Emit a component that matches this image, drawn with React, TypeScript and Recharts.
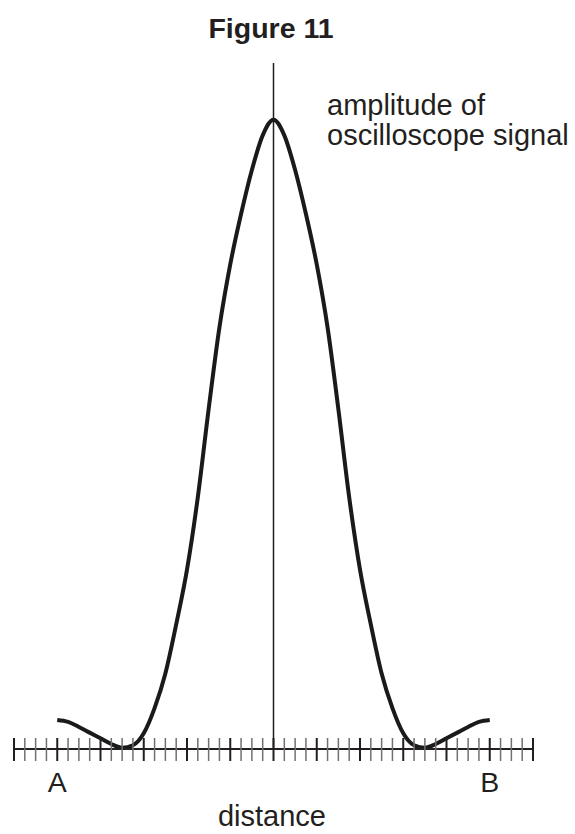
import React from 'react';
import { LineChart, Line, XAxis, YAxis, ReferenceLine } from 'recharts';

// distance along A–B (one unit = one small scale division)
const distance = [
  -20, -19, -18, -17, -16, -15, -14, -13, -12, -11, -10, -9, -8, -7, -6, -5, -4, -3, -2, -1,
  0,
  1, 2, 3, 4, 5, 6, 7, 8, 9, 10, 11, 12, 13, 14, 15, 16, 17, 18, 19, 20,
];

// amplitude of oscilloscope signal (percent of the central peak)
const amplitude = [
  4.6, 4.3, 3.5, 2.6, 1.7, 0.8, 0.2, 0.6, 2.5, 6.5, 12, 19.8, 28.5, 40, 54, 67, 77, 85, 92, 97.5,
  100,
  97.5, 92, 85, 77, 67, 54, 40, 28.5, 19.8, 12, 6.5, 2.5, 0.6, 0.2, 0.8, 1.7, 2.6, 3.5, 4.3, 4.6,
];

// scale divisions on the distance axis
const tickValues = [
  -24, -23, -22, -21, -20, -19, -18, -17, -16, -15, -14, -13, -12, -11, -10, -9, -8, -7, -6, -5, -4, -3, -2, -1,
  0, 1, 2, 3, 4, 5, 6, 7, 8, 9, 10, 11, 12, 13, 14, 15, 16, 17, 18, 19, 20, 21, 22, 23, 24,
];
const majorTicks = [-24, -20, -16, -12, -8, -4, 0, 4, 8, 12, 16, 20, 24];
const pointValues = [-20, 20];
const pointLabels = ['A', 'B'];

const title = 'Figure 11';
const yLabelLines = ['amplitude of', 'oscilloscope signal'];
const xLabel = 'distance';

const data = distance.map((d, i) => ({ distance: d, amplitude: amplitude[i] }));

const FONT = '"Liberation Sans", Arial, Helvetica, sans-serif';
const INK = '#231f20';

function CrossTick(props: any) {
  const { x, y, payload } = props;
  const v = payload.value;
  const major = majorTicks.includes(v);
  const li = pointValues.indexOf(v);
  return (
    <g>
      <line
        x1={x}
        x2={x}
        y1={y - 11}
        y2={y + 12}
        stroke={major ? INK : '#707070'}
        strokeWidth={major ? 2 : 1.5}
      />
      {li >= 0 && (
        <text x={x} y={y + 43} textAnchor="middle" fontSize={28.5} fill={INK} fontFamily={FONT}>
          {pointLabels[li]}
        </text>
      )}
    </g>
  );
}

export default function App() {
  return (
    <div style={{ position: 'absolute', left: 0, top: 0, width: 575, height: 834, background: '#fff' }}>
      <LineChart width={575} height={834} data={data} margin={{ top: 63, right: 42, bottom: 0, left: 14 }}>
        <XAxis
          dataKey="distance"
          type="number"
          domain={[-24, 24]}
          ticks={tickValues}
          interval={0}
          height={85}
          axisLine={{ stroke: INK, strokeWidth: 2 }}
          tickLine={false}
          tickSize={0}
          tickMargin={0}
          tick={<CrossTick />}
          allowDataOverflow
        />
        <YAxis hide domain={[0, 109]} allowDataOverflow />
        <ReferenceLine x={0} stroke={INK} strokeWidth={1.5} />
        <Line
          dataKey="amplitude"
          type="monotone"
          stroke="#1a1a1a"
          strokeWidth={4}
          dot={false}
          isAnimationActive={false}
        />
      </LineChart>
      <svg
        width={575}
        height={834}
        style={{ position: 'absolute', left: 0, top: 0, pointerEvents: 'none' }}
      >
        <text x={271} y={38} textAnchor="middle" fontSize={28.5} fontWeight="bold" fill={INK} fontFamily={FONT}>
          {title}
        </text>
        {yLabelLines.map((t, i) => (
          <text key={t} x={327} y={115 + i * 30} fontSize={29} fill={INK} fontFamily={FONT}>
            {t}
          </text>
        ))}
        <text x={272} y={826} textAnchor="middle" fontSize={29} fill={INK} fontFamily={FONT}>
          {xLabel}
        </text>
      </svg>
    </div>
  );
}
